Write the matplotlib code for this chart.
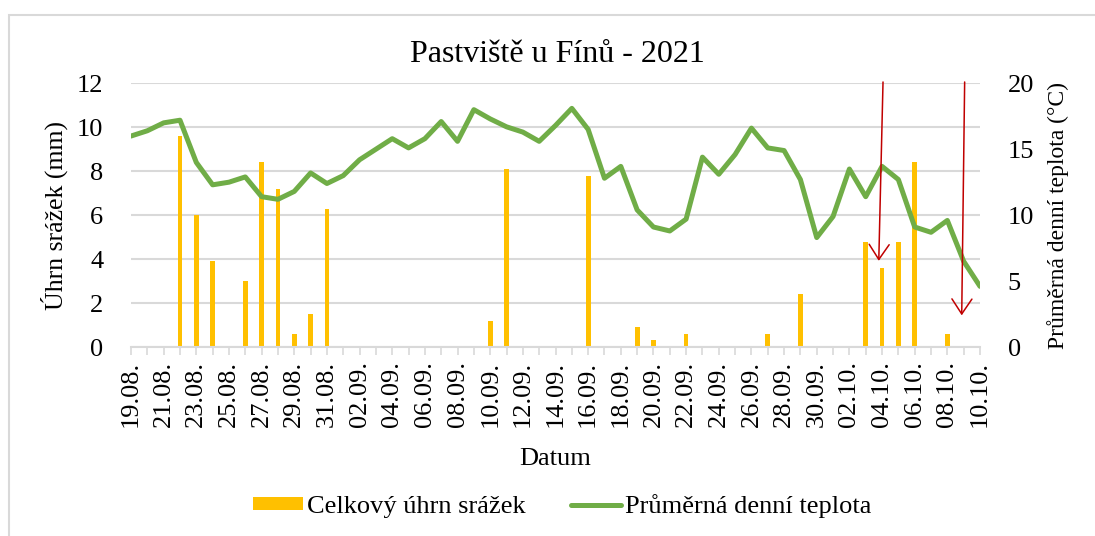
import matplotlib
matplotlib.use("Agg")
import matplotlib.pyplot as plt
import pandas as pd
from matplotlib.patches import Rectangle

plt.rcParams['font.family'] = ['Liberation Serif', 'DejaVu Serif']

# categories: one per day
dates = pd.date_range("2021-08-19", "2021-10-10", freq="D")
date_labels = [d.strftime("%d.%m.") for d in dates]

# daily precipitation (mm)
precip = [0, 0, 0, 9.6, 6.0, 3.9, 0, 3.0, 8.4, 7.2,
          0.6, 1.5, 6.3, 0, 0, 0, 0, 0, 0, 0,
          0, 0, 1.2, 8.1, 0, 0, 0, 0, 7.8, 0,
          0, 0.9, 0.3, 0, 0.6, 0, 0, 0, 0, 0.6,
          0, 2.4, 0, 0, 0, 4.8, 3.6, 4.8, 8.4, 0,
          0.6, 0, 0]

# mean daily temperature (°C)
temp = [16.0, 16.4, 17.0, 17.2, 14.0, 12.3, 12.5, 12.9, 11.4, 11.2,
        11.8, 13.2, 12.4, 13.0, 14.2, 15.0, 15.8, 15.1, 15.8, 17.1,
        15.6, 18.0, 17.3, 16.7, 16.3, 15.6, 16.8, 18.1, 16.5, 12.8,
        13.7, 10.4, 9.1, 8.8, 9.7, 14.4, 13.1, 14.6, 16.6, 15.1,
        14.9, 12.7, 8.3, 9.9, 13.5, 11.4, 13.7, 12.7, 9.1, 8.7,
        9.6, 6.5, 4.6]

# red arrows drawn by hand in the original (day index, mm)
arrow_start = [(46.06, 12.06), (51.06, 12.06)]
arrow_end = [(45.80, 3.92), (50.88, 1.44)]

bar_color = "#FFC000"
line_color = "#70AD47"
grid_color = "#D9D9D9"
fs = 19

fig = plt.figure(figsize=(10.95, 5.36), dpi=100)
fig.patches.append(Rectangle((9 / 1095, -0.1), 1.2, 1 - 15 / 536 + 0.1,
                             transform=fig.transFigure, fill=False,
                             edgecolor=grid_color, linewidth=1.5))

ax = fig.add_axes([131 / 1095, 1 - 347 / 536, (980 - 131) / 1095, (347 - 83.3) / 536])
x = list(range(len(dates)))

ax.bar(x, precip, width=0.29, color=bar_color, zorder=2, label="Celkový úhrn srážek")
ax.set_xlim(0, len(dates) - 1)
ax.set_ylim(0, 12)
ax.set_yticks(range(0, 13, 2))
ax.yaxis.grid(True, color=grid_color, linewidth=1.5, zorder=0)
ax.set_axisbelow(True)
for s in ["top", "right", "left"]:
    ax.spines[s].set_visible(False)
ax.spines["bottom"].set_color(grid_color)
ax.spines["bottom"].set_linewidth(1.5)
ax.set_xticks(x)
ax.set_xticklabels([lab if i % 2 == 0 else "" for i, lab in enumerate(date_labels)],
                   rotation=90, fontsize=fs)
ax.tick_params(axis="x", length=6, width=1.2, color=grid_color, pad=4)
ax.tick_params(axis="y", length=0, labelsize=fs, pad=20)
ax.set_ylabel("Úhrn srážek (mm)", fontsize=18.5, labelpad=6)
ax.set_xlabel("Datum", fontsize=fs, labelpad=15)

ax2 = ax.twinx()
ax2.plot(x, temp, color=line_color, linewidth=3.6, solid_capstyle="round",
         label="Průměrná denní teplota", zorder=3)
ax2.set_ylim(0, 20)
ax2.set_yticks(range(0, 21, 5))
for s in ax2.spines.values():
    s.set_visible(False)
ax2.tick_params(axis="y", length=0, labelsize=fs, pad=20)
ax2.set_ylabel("Průměrná denní teplota (°C)", fontsize=17, labelpad=9)

for (x0, y0), (x1, y1) in zip(arrow_start, arrow_end):
    ax2.annotate("", xy=(x1, y1 * 20 / 12), xytext=(x0, y0 * 20 / 12),
                 annotation_clip=False,
                 arrowprops=dict(arrowstyle="->,head_length=0.75,head_width=0.5",
                                 color="#C00000", linewidth=1.1, mutation_scale=14.4,
                                 shrinkA=0, shrinkB=0))

fig.text(557 / 1095, 1 - 55 / 536, "Pastviště u Fínů - 2021", fontsize=23,
         ha="center", va="center")

h1, l1 = ax.get_legend_handles_labels()
h2, l2 = ax2.get_legend_handles_labels()
fig.legend(h1 + h2, l1 + l2, loc="center", bbox_to_anchor=(562 / 1095, 1 - 506 / 536),
           ncol=2, frameon=False, fontsize=fs, handlelength=1.9, handleheight=0.4,
           handletextpad=0.15, columnspacing=1.7)

fig.savefig("out.png", dpi=100)
